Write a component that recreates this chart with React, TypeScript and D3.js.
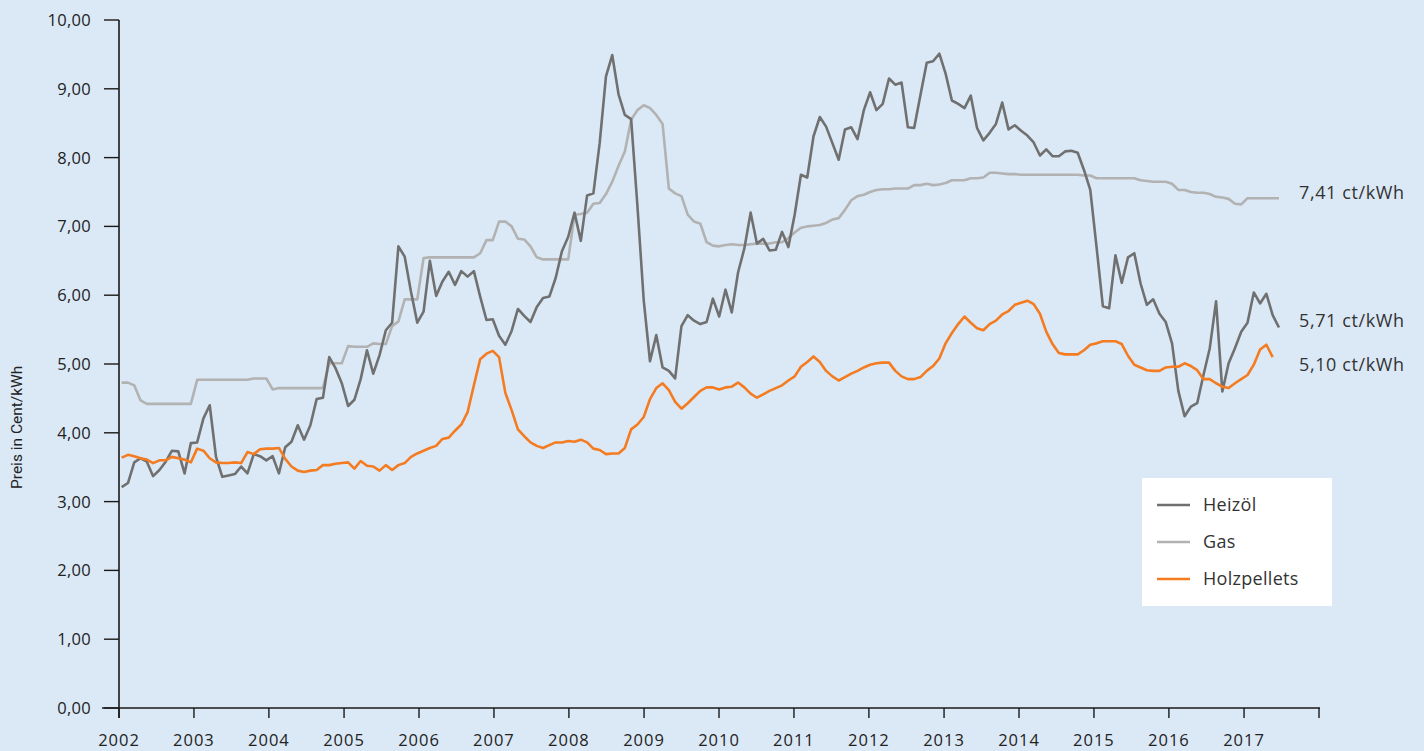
import React from 'react';
import * as d3 from 'd3';

// Monthly prices in Cent/kWh, from Jan 2002
const heizoel = [
  3.21, 3.27, 3.57, 3.63, 3.58, 3.37, 3.46, 3.58, 3.74, 3.73, 3.41, 3.85,
  3.86, 4.21, 4.40, 3.65, 3.36, 3.38, 3.40, 3.51, 3.41, 3.69, 3.66, 3.60,
  3.66, 3.41, 3.79, 3.87, 4.11, 3.90, 4.11, 4.49, 4.51, 5.10, 4.94, 4.72,
  4.39, 4.48, 4.78, 5.20, 4.86, 5.13, 5.49, 5.60, 6.71, 6.56, 6.05, 5.60,
  5.76, 6.50, 5.99, 6.20, 6.34, 6.15, 6.35, 6.27, 6.35, 5.98, 5.64, 5.65,
  5.41, 5.28, 5.48, 5.80, 5.70, 5.61, 5.83, 5.96, 5.98, 6.25, 6.64, 6.85,
  7.20, 6.79, 7.45, 7.48, 8.21, 9.18, 9.49, 8.92, 8.62, 8.56, 7.30, 5.93,
  5.04, 5.42, 4.95, 4.90, 4.79, 5.55, 5.71, 5.63, 5.58, 5.61, 5.95, 5.69,
  6.08, 5.75, 6.33, 6.68, 7.20, 6.75, 6.82, 6.65, 6.66, 6.92, 6.70, 7.17,
  7.75, 7.71, 8.31, 8.59, 8.45, 8.21, 7.97, 8.41, 8.44, 8.27, 8.69, 8.95,
  8.69, 8.78, 9.15, 9.06, 9.09, 8.44, 8.43, 8.91, 9.38, 9.40, 9.51, 9.22,
  8.83, 8.78, 8.72, 8.90, 8.43, 8.25, 8.36, 8.49, 8.80, 8.41, 8.47, 8.39,
  8.32, 8.22, 8.03, 8.12, 8.02, 8.02, 8.09, 8.10, 8.07, 7.82, 7.53, 6.70,
  5.84, 5.81, 6.58, 6.18, 6.55, 6.61, 6.17, 5.86, 5.94, 5.73, 5.61, 5.30,
  4.61, 4.24, 4.38, 4.43, 4.84, 5.23, 5.91, 4.60, 5.01, 5.23, 5.47, 5.60,
  6.04, 5.88, 6.02, 5.71, 5.53,
];

const gas = [
  4.73, 4.73, 4.69, 4.47, 4.42, 4.42, 4.42, 4.42, 4.42, 4.42, 4.42, 4.42,
  4.77, 4.77, 4.77, 4.77, 4.77, 4.77, 4.77, 4.77, 4.77, 4.79, 4.79, 4.79,
  4.63, 4.65, 4.65, 4.65, 4.65, 4.65, 4.65, 4.65, 4.65, 5.01, 5.01, 5.01,
  5.26, 5.25, 5.25, 5.25, 5.30, 5.29, 5.29, 5.55, 5.62, 5.94, 5.94, 5.94,
  6.54, 6.55, 6.55, 6.55, 6.55, 6.55, 6.55, 6.55, 6.55, 6.61, 6.80, 6.80,
  7.07, 7.07, 7.00, 6.82, 6.81, 6.71, 6.55, 6.52, 6.52, 6.52, 6.52, 6.52,
  7.17, 7.18, 7.20, 7.33, 7.34, 7.47, 7.65, 7.88, 8.09, 8.55, 8.69, 8.76,
  8.72, 8.62, 8.49, 7.55, 7.48, 7.44, 7.17, 7.07, 7.04, 6.77, 6.72, 6.71,
  6.73, 6.74, 6.73, 6.73, 6.74, 6.75, 6.75, 6.75, 6.77, 6.77, 6.83, 6.91,
  6.98, 7.00, 7.01, 7.02, 7.05, 7.10, 7.12, 7.24, 7.38, 7.44, 7.46, 7.50,
  7.53, 7.54, 7.54, 7.55, 7.55, 7.55, 7.60, 7.60, 7.62, 7.60, 7.61, 7.63,
  7.67, 7.67, 7.67, 7.70, 7.70, 7.71, 7.78, 7.78, 7.77, 7.76, 7.76, 7.75,
  7.75, 7.75, 7.75, 7.75, 7.75, 7.75, 7.75, 7.75, 7.75, 7.74, 7.74, 7.70,
  7.70, 7.70, 7.70, 7.70, 7.70, 7.70, 7.67, 7.66, 7.65, 7.65, 7.65, 7.62,
  7.53, 7.53, 7.50, 7.49, 7.49, 7.47, 7.43, 7.42, 7.40, 7.33, 7.32, 7.41,
  7.41, 7.41, 7.41, 7.41, 7.41,
];

const pellets = [
  3.64, 3.68, 3.66, 3.63, 3.61, 3.56, 3.60, 3.60, 3.65, 3.63, 3.61, 3.57,
  3.77, 3.74, 3.63, 3.57, 3.56, 3.56, 3.57, 3.56, 3.72, 3.69, 3.76, 3.77,
  3.77, 3.78, 3.62, 3.51, 3.45, 3.43, 3.45, 3.46, 3.53, 3.53, 3.55, 3.56,
  3.57, 3.48, 3.59, 3.52, 3.51, 3.45, 3.53, 3.46, 3.53, 3.56, 3.65, 3.70,
  3.74, 3.78, 3.81, 3.91, 3.93, 4.03, 4.12, 4.30, 4.69, 5.07, 5.15, 5.19,
  5.10, 4.58, 4.33, 4.05, 3.95, 3.86, 3.81, 3.78, 3.82, 3.86, 3.86, 3.88,
  3.87, 3.90, 3.86, 3.77, 3.75, 3.69, 3.70, 3.70, 3.78, 4.05, 4.12, 4.23,
  4.49, 4.65, 4.72, 4.62, 4.45, 4.35, 4.43, 4.52, 4.61, 4.66, 4.66, 4.63,
  4.66, 4.67, 4.73, 4.66, 4.57, 4.51, 4.56, 4.61, 4.65, 4.69, 4.76, 4.82,
  4.96, 5.03, 5.11, 5.03, 4.90, 4.82, 4.76, 4.81, 4.86, 4.90, 4.95, 4.99,
  5.01, 5.02, 5.02, 4.90, 4.82, 4.78, 4.78, 4.81, 4.90, 4.97, 5.08, 5.30,
  5.45, 5.58, 5.69, 5.60, 5.52, 5.49, 5.58, 5.63, 5.72, 5.77, 5.86, 5.89,
  5.92, 5.87, 5.73, 5.47, 5.29, 5.16, 5.14, 5.14, 5.14, 5.20, 5.28, 5.30,
  5.33, 5.33, 5.33, 5.29, 5.12, 4.99, 4.95, 4.91, 4.90, 4.90, 4.95, 4.96,
  4.96, 5.01, 4.97, 4.91, 4.78, 4.78, 4.72, 4.67, 4.65, 4.72, 4.78, 4.84,
  4.99, 5.21, 5.28, 5.10,
];

const yTicks = [0, 1, 2, 3, 4, 5, 6, 7, 8, 9, 10];
const yearTicks = [2002, 2003, 2004, 2005, 2006, 2007, 2008, 2009, 2010, 2011, 2012, 2013, 2014, 2015, 2016, 2017, 2018];
const yearLabels = ['2002', '2003', '2004', '2005', '2006', '2007', '2008', '2009', '2010', '2011', '2012', '2013', '2014', '2015', '2016', '2017'];
const seriesNames = ['Heizöl', 'Gas', 'Holzpellets'];
const seriesColors = ['#707070', '#b2b2b2', '#f47b20'];
const endLabels = ['7,41 ct/kWh', '5,71 ct/kWh', '5,10 ct/kWh'];
const endLabelValues = [7.41, 5.71, 5.1];
const yTitle = 'Preis in Cent/kWh';

const W = 1424;
const H = 751;
const FONT = "'Open Sans', 'Noto Sans', sans-serif";
const FONT_NARROW = "Roboto, 'Noto Sans', sans-serif";

export default function App() {
  const x = d3.scaleTime()
    .domain([new Date(2002, 0, 1), new Date(2018, 0, 1)])
    .range([119, 1319]);
  const y = d3.scaleLinear().domain([0, 10]).range([708, 20]);
  // monthly observations evenly spaced from mid Jan 2002 to mid Jun 2017
  const xi = d3.scaleLinear()
    .domain([0, heizoel.length - 1])
    .range([x(new Date(2002, 0, 14)), x(new Date(2017, 5, 20))]);

  const line = d3.line<number>()
    .x((_, i) => xi(i))
    .y((d) => y(d))
    .curve(d3.curveLinear);

  const series = [heizoel, gas, pellets];
  const drawOrder = [1, 0, 2];
  const labelDy = [-6, 5, 7];

  return (
    <svg
      width={W}
      height={H}
      style={{ position: 'absolute', left: 0, top: 0, background: '#dbe9f6', display: 'block' }}
    >
      <rect x={0} y={0} width={W} height={H} fill="#dbe9f6" />

      {/* Y axis */}
      <line x1={119} x2={119} y1={y(10)} y2={718} stroke="#1a1a1a" strokeWidth={1.6} />
      {yTicks.map((t) => (
        <g key={t}>
          <line x1={104} x2={119} y1={y(t)} y2={y(t)} stroke="#1a1a1a" strokeWidth={1.4} />
          <text x={91} y={y(t)} dy="0.36em" textAnchor="end" fontFamily={FONT} fontSize={16.5} letterSpacing={0.3} fill="#222">
            {d3.format('.2f')(t).replace('.', ',')}
          </text>
        </g>
      ))}
      <text
        transform={`translate(22, ${y(4.08)}) rotate(-90)`}
        textAnchor="middle"
        fontFamily={FONT_NARROW}
        fontSize={15.5}
        fill="#222"
      >
        {yTitle}
      </text>

      {/* X axis */}
      <line x1={102} x2={1320} y1={708} y2={708} stroke="#1a1a1a" strokeWidth={1.6} />
      {yearTicks.map((yr) => (
        <line key={yr} x1={x(new Date(yr, 0, 1))} x2={x(new Date(yr, 0, 1))} y1={708} y2={718} stroke="#1a1a1a" strokeWidth={1.4} />
      ))}
      {yearLabels.map((lab, i) => (
        <text key={lab} x={x(new Date(yearTicks[i], 0, 1))} y={746} textAnchor="middle" fontFamily={FONT} fontSize={16.5} letterSpacing={1} fill="#222">
          {lab}
        </text>
      ))}

      {/* Lines */}
      {drawOrder.map((k) => (
        <path key={k} d={line(series[k]) || ''} fill="none" stroke={seriesColors[k]} strokeWidth={2.6} strokeLinejoin="round" />
      ))}

      {/* End labels */}
      {endLabels.map((lab, i) => (
        <text key={lab} x={1299} y={y(endLabelValues[i]) + labelDy[i]} dy="0.36em" fontFamily={FONT} fontSize={18} letterSpacing={0.6} fill="#333">
          {lab}
        </text>
      ))}

      {/* Legend */}
      <rect x={1142} y={478} width={190} height={128} fill="#ffffff" />
      {seriesNames.map((n, i) => (
        <g key={n}>
          <line x1={1157} x2={1190} y1={505 + i * 37} y2={505 + i * 37} stroke={seriesColors[i]} strokeWidth={2.6} />
          <text x={1203} y={505 + i * 37} dy="0.36em" fontFamily={FONT} fontSize={18} letterSpacing={0.3} fill="#333">
            {n}
          </text>
        </g>
      ))}
    </svg>
  );
}
